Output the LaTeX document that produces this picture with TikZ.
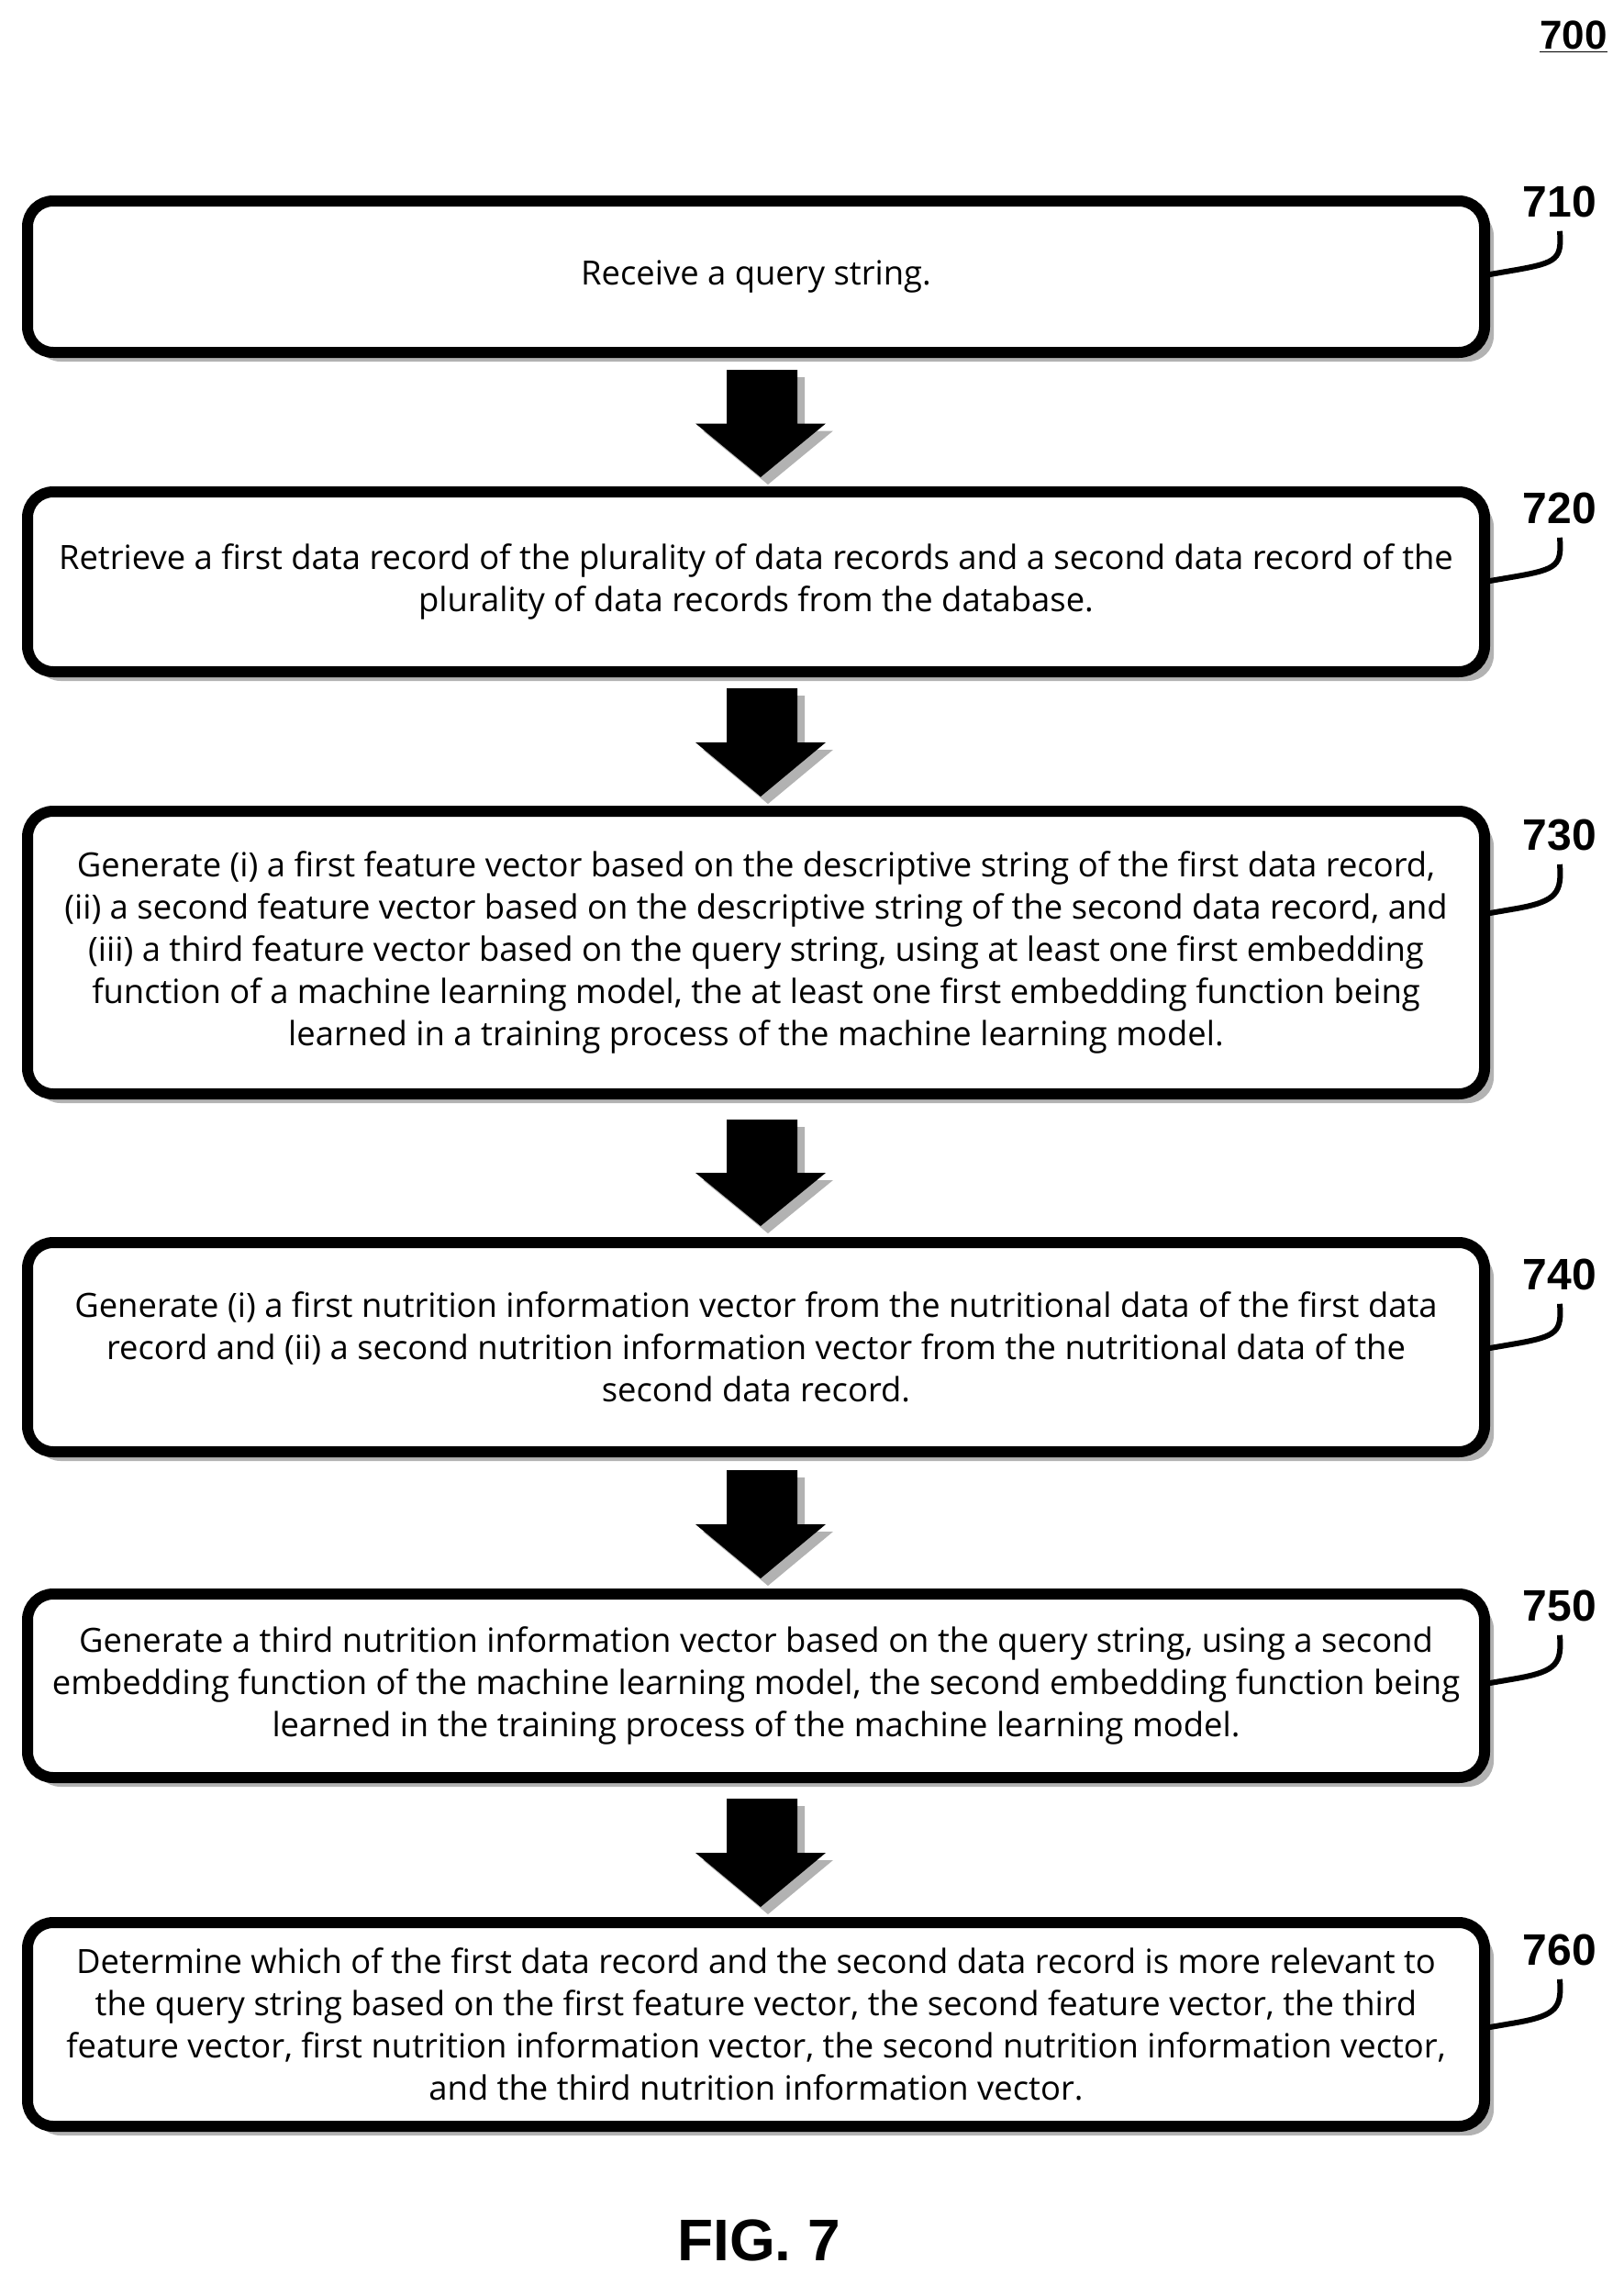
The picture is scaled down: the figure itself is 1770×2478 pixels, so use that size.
\documentclass[tikz,border=0pt]{standalone}
\usepackage{fontspec}
\setmainfont{Open Sans}
\newfontfamily\labfont{Liberation Sans}
\begin{document}
\begin{tikzpicture}[x=0.5pt,y=-0.5pt,
  box/.style={draw,line width=6pt,rounded corners=14pt,fill=white},
  shad/.style={fill=black!30,rounded corners=14pt},
  lab/.style={font=\labfont\bfseries\fontsize{24}{24}\selectfont,inner sep=0pt},
  txt/.style={align=center,font=\fontsize{18.2}{23}\selectfont},
  lead/.style={line width=3pt}]
\useasboundingbox (0,0) rectangle (1770,2478);
\newcommand\stepbox[7]{% name, top, bottom, label y, text, labelnum, leader y
  \fill[shad] (38,#2+10) rectangle (1628,#3+10);
  \draw[box] (30,#2) rectangle (1618,#3);
  \coordinate (#1e) at (1618,#7);
  \node[txt] (#1t) at (824,{(#2+#3)/2}) {#5};
  \node[lab,anchor=north] (#1l) at (1700,#4) {#6};
  \draw[lead] (#1e) -- ++(35,-6) .. controls +(45,-8) and +(2,30) .. ([yshift=-7pt]#1l.south);
}
\newcommand\blockarrow[2]{% top, bottom
  \pgfmathsetmacro\mid{(#1+#2)/2}
  \fill[black!30] (800,#1+8) -- (877,#1+8) -- (877,\mid+8) -- (908,\mid+8) -- (837,#2+8) -- (766,\mid+8) -- (800,\mid+8) -- cycle;
  \fill (792,#1) -- (869,#1) -- (869,\mid) -- (900,\mid) -- (829,#2) -- (758,\mid) -- (792,\mid) -- cycle;
}
\node[lab,font=\labfont\bfseries\fontsize{22}{22}\selectfont] (fig700) at (1715,40) {\underline{700}};
\stepbox{s710}{219}{384}{203}{Receive a query string.}{710}{300}
\blockarrow{403}{520}
\stepbox{s720}{536}{732}{537}{Retrieve a first data record of the plurality of data records and a second data record of the\\plurality of data records from the database.}{720}{634}
\blockarrow{750}{868}
\stepbox{s730}{884}{1192}{893}{Generate (i) a first feature vector based on the descriptive string of the first data record,\\(ii) a second feature vector based on the descriptive string of the second data record, and\\(iii) a third feature vector based on the query string, using at least one first embedding\\function of a machine learning model, the at least one first embedding function being\\learned in a training process of the machine learning model.}{730}{996}
\blockarrow{1220}{1336}
\stepbox{s740}{1354}{1582}{1372}{Generate (i) a first nutrition information vector from the nutritional data of the first data\\record and (ii) a second nutrition information vector from the nutritional data of the\\second data record.}{740}{1470}
\blockarrow{1602}{1720}
\stepbox{s750}{1737}{1937}{1733}{Generate a third nutrition information vector based on the query string, using a second\\embedding function of the machine learning model, the second embedding function being\\learned in the training process of the machine learning model.}{750}{1835}
\blockarrow{1960}{2078}
\stepbox{s760}{2095}{2317}{2108}{Determine which of the first data record and the second data record is more relevant to\\the query string based on the first feature vector, the second feature vector, the third\\feature vector, first nutrition information vector, the second nutrition information vector,\\and the third nutrition information vector.}{760}{2210}
\node[lab,font=\labfont\bfseries\fontsize{32}{32}\selectfont] (fig) at (827,2441) {FIG. 7};
\end{tikzpicture}
\end{document}
